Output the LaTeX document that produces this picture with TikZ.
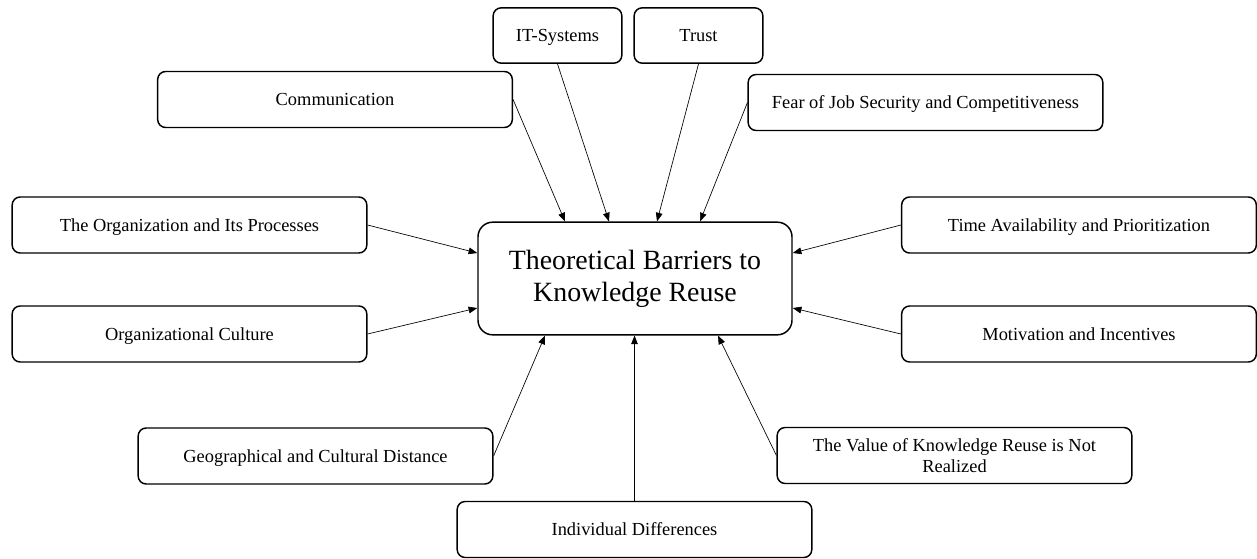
\documentclass[tikz,border=0pt]{standalone}
\usepackage{fontspec}
\setmainfont{Liberation Serif}
\usetikzlibrary{arrows.meta,calc}

\tikzset{
  barrier/.style={draw, line width=1.1pt, rounded corners=6pt,
    minimum width=266pt, minimum height=42pt, inner sep=0pt, align=center,
    font=\fontsize{13.8}{15.9}\selectfont},
  oneline/.style={barrier, text height=9.4pt, text depth=0pt},
  smallbarrier/.style={oneline, minimum width=96.5pt, minimum height=41.5pt},
  core/.style={draw, line width=1.1pt, rounded corners=11pt,
    minimum width=235.5pt, minimum height=84.5pt, inner sep=0pt, align=center,
    font=\fontsize{20.9}{24}\selectfont},
  feed/.style={line width=0.5pt, -{Triangle[length=6.5pt,width=5pt]}}
}

\begin{document}
\begin{tikzpicture}[x=0.75pt, y=-0.75pt]
  \useasboundingbox (0,0) rectangle (1257,558);

  % central concept
  \node[core] (ctr) at (635,278.5) {Theoretical Barriers to\\Knowledge Reuse};

  % top row
  \node[smallbarrier] (it)    at (557.5,35.5) {IT-Systems};
  \node[smallbarrier] (trust) at (698.5,35.5) {Trust};
  \node[oneline] (comm) at (335,99.5)  {Communication};
  \node[oneline] (fear) at (925.5,102.5) {Fear of Job Security and Competitiveness};

  % left and right columns
  \node[oneline] (orgproc) at (189.5,225) {The Organization and Its Processes};
  \node[oneline] (orgcult) at (189.5,334) {Organizational Culture};
  \node[oneline] (time)    at (1079,225)  {Time Availability and Prioritization};
  \node[oneline] (motiv)   at (1079,334)  {Motivation and Incentives};

  % bottom row
  \node[oneline] (geo)   at (315.5,456)   {Geographical and Cultural Distance};
  \node[barrier] (value) at (954.5,455.5) {The Value of Knowledge Reuse is Not\\Realized};
  \node[oneline] (indiv) at (634.5,529.5) {Individual Differences};

  % influences on the central concept
  \draw[feed] (comm.east)  -- ($(ctr.north)+(-70,0)$);
  \draw[feed] (it.south)   -- ($(ctr.north)+(-26,0)$);
  \draw[feed] (trust.south)-- ($(ctr.north)+(22,0)$);
  \draw[feed] (fear.west)  -- ($(ctr.north)+(65,0)$);

  \draw[feed] (orgproc.east) -- ($(ctr.west)+(0,-25.5)$);
  \draw[feed] (orgcult.east) -- ($(ctr.west)+(0,29.5)$);
  \draw[feed] (time.west)    -- ($(ctr.east)+(0,-25.5)$);
  \draw[feed] (motiv.west)   -- ($(ctr.east)+(0,29.5)$);

  \draw[feed] (geo.east)    -- ($(ctr.south)+(-90,0)$);
  \draw[feed] (indiv.north) -- (indiv.north |- ctr.south);
  \draw[feed] (value.west)  -- ($(ctr.south)+(83,0)$);
\end{tikzpicture}
\end{document}
